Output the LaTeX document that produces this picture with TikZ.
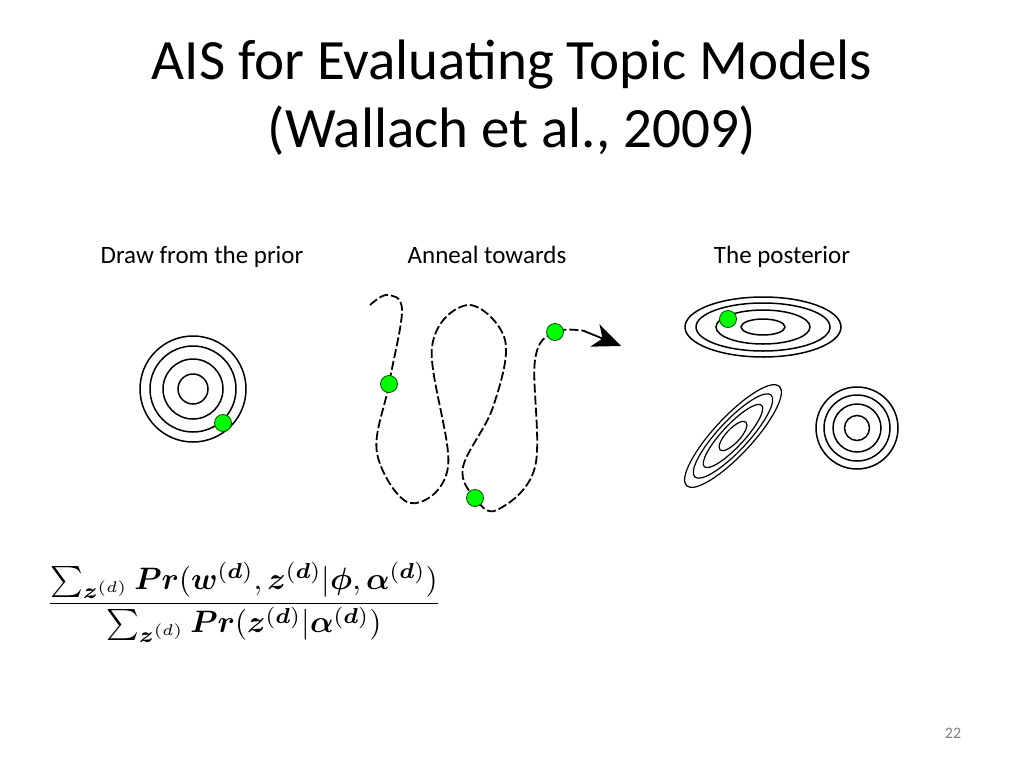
\documentclass[tikz,border=0pt]{standalone}
\usepackage{amsmath,bm}
\usepackage{fontspec}
\setmainfont{Carlito}
\usetikzlibrary{arrows.meta}
\begin{document}
\begin{tikzpicture}[x=1pt,y=-1pt,
  ring/.style={draw,line width=1.5pt},
  dot/.style={circle,draw=black!70!green,fill=green,line width=0.8pt,minimum size=17pt,inner sep=0pt},
  lbl/.style={font=\fontsize{25}{30}\selectfont,anchor=base}]
\useasboundingbox (0,0) rectangle (1024,768);
\node (t1) at (512,65) {\fontsize{57}{64}\selectfont AIS for Evaluating Topic Models};
\node (t2) at (512,131) {\fontsize{57}{64}\selectfont (Wallach et al., 2009)};
\node[lbl] (l1) at (202,263) {Draw from the prior};
\node[lbl] (l2) at (487,263) {Anneal towards};
\node[lbl] (l3) at (782,263) {The posterior};
% prior
\foreach \r in {53,43,30,15} \draw[ring] (193,389) circle (\r);
\node[dot] (d1) at (223,423) {};
% path
\draw[line width=1.8pt,dash pattern=on 9pt off 3pt] plot[smooth,tension=0.6] coordinates {(370,305) (387,295) (402,310) (389,384) (377,453) (410,503) (448,467) (432,347) (468,305) (505,340) (493,407) (463,467) (475,498) (497,510) (535,467) (535,360) (555,332) (585,331)};
\coordinate (tip) at (621,346);
\coordinate (base) at (584,331);
\draw[-{Stealth[length=28pt,width=24pt,inset=8pt]},line width=1.8pt] (base) -- (tip);
\node[dot] (d2) at (389,384) {};
\node[dot] (d3) at (475,498) {};
\node[dot] (d4) at (555,332) {};
% posterior
\draw[ring] (763,327) ellipse (78 and 30);
\draw[ring] (763,327) ellipse (67 and 24);
\draw[ring] (763,327) ellipse (47 and 17);
\draw[ring] (763,327) ellipse (22 and 8);
\node[dot] (d5) at (728,319) {};
\begin{scope}[shift={(733,436)},rotate=47]
\foreach \a/\b in {68/19,56/15,42/11,19/7} \draw[ring,line width=1.2pt] (0,0) ellipse (\a pt and \b pt);
\end{scope}
\foreach \r in {41,33,24,12.5} \draw[ring] (857,428) circle (\r);
% formula
\node (f) at (244,602) {\scalebox{3.1}{$\dfrac{\sum_{\bm{z}^{(d)}} \bm{Pr}(\bm{w}^{(\bm{d})},\bm{z}^{(\bm{d})}|\bm{\phi},\bm{\alpha}^{(\bm{d})})}{\sum_{\bm{z}^{(d)}} \bm{Pr}(\bm{z}^{(\bm{d})}|\bm{\alpha}^{(\bm{d})})}$}};
\node[text=gray,font=\fontsize{16}{18}\selectfont] (pg) at (953,733) {22};
\end{tikzpicture}
\end{document}
